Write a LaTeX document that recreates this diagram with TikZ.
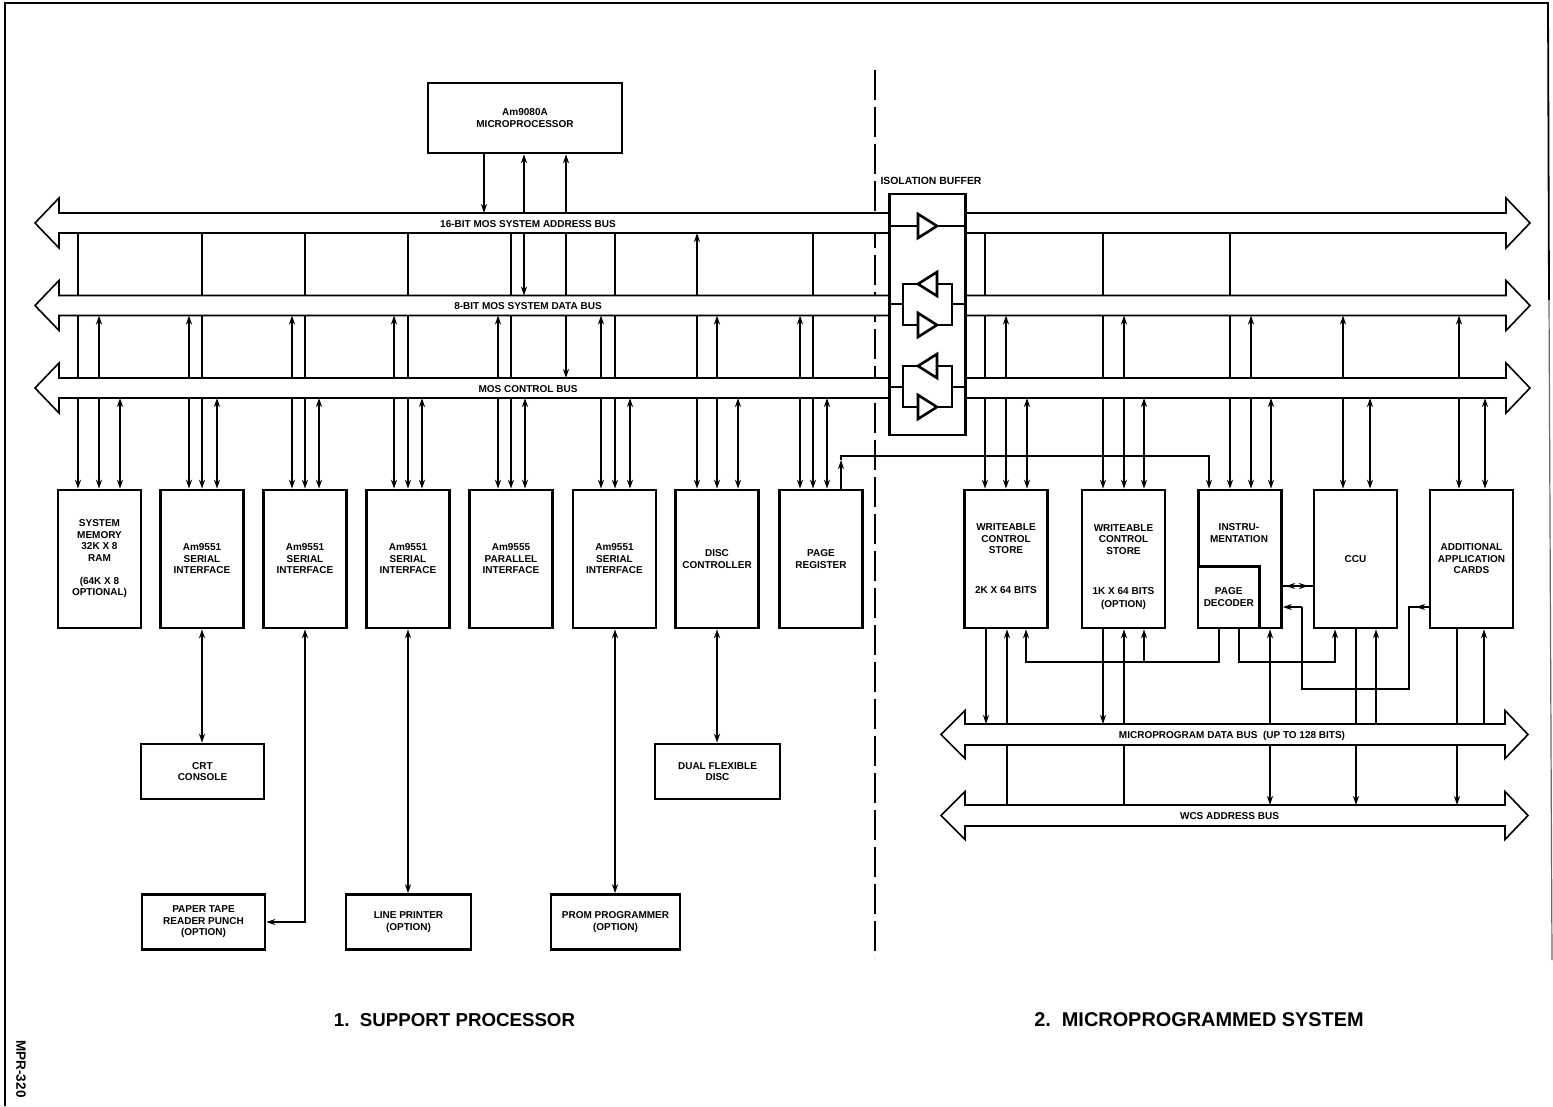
\documentclass[tikz,border=0pt]{standalone}
\usepackage{fontspec}
\setmainfont{Liberation Sans}
\usetikzlibrary{arrows.meta}

\begin{document}
\begin{tikzpicture}[
    x=1pt, y=-1pt,
    font=\bfseries\fontsize{10}{11.5}\selectfont,
    box/.style={draw, line width=2.6pt, fill=white, align=center, inner sep=0pt},
    tall/.style={box, minimum width=83pt, minimum height=138pt},
    wide/.style={box, minimum height=55pt},
    lbl/.style={align=center, inner sep=0pt},
    bus/.style={draw, line width=1.6pt, fill=white},
    link/.style={line width=1.6pt, >={Stealth[length=9pt,width=6pt]}},
    thin link/.style={line width=1.3pt},
    tri/.style={draw, line width=2.6pt, fill=white, line join=miter}
]
\useasboundingbox (0,0) rectangle (1553,1106);

% Frame
\draw[line width=1.8pt] (5,1106) -- (5,3) -- (1548,3) -- (1549,300);
\draw[line width=1.2pt, black!60] (1549,300) -- (1552,960);
\node[rotate=-90, font=\bfseries\fontsize{13.5}{15}\selectfont] (mpr) at (21,1069) {MPR-320};

% Divider
\draw[line width=2.6pt, dash pattern=on 30pt off 7pt] (875,70) -- (875,958);

% MOS buses, left and right of the buffer
\foreach \bname/\by/\btext in {addr/223/{16-BIT MOS SYSTEM ADDRESS BUS},
                               data/305.5/{8-BIT MOS SYSTEM DATA BUS},
                               ctrl/388/{MOS CONTROL BUS}} {
    \coordinate (\bname T) at (0,\by-10);
    \coordinate (\bname B) at (0,\by+10);
    \draw[bus] (889,\by-10) -- (59,\by-10) -- (59,\by-25) -- (35,\by) -- (59,\by+25) -- (59,\by+10) -- (889,\by+10);
    \draw[bus] (966,\by-10) -- (1506,\by-10) -- (1506,\by-25) -- (1530,\by) -- (1506,\by+25) -- (1506,\by+10) -- (966,\by+10);
    \node (\bname L) at (528,\by+1) {\btext};
}

% Microprogram buses
\foreach \bname/\by/\bx/\btext in {mdat/734.5/1232/{MICROPROGRAM DATA BUS\ \ (UP TO 128 BITS)},
                                   wcsb/815.5/1229.5/{WCS ADDRESS BUS}} {
    \coordinate (\bname T) at (0,\by-10.5);
    \coordinate (\bname B) at (0,\by+10.5);
    \draw[bus] (965,\by-10.5) -- (1505,\by-10.5) -- (1505,\by-24) -- (1528,\by) -- (1505,\by+24) -- (1505,\by+10.5)
        -- (965,\by+10.5) -- (965,\by+24) -- (941,\by) -- (965,\by-24) -- cycle;
    \node (\bname L) at (\bx,\by+1) {\btext};
}

% Processor
\node[box, minimum width=194pt, minimum height=70pt] (mproc) at (525,118) {Am9080A\\MICROPROCESSOR};

% Support blocks
\node[tall] (sysmem) at (99.5,559) {SYSTEM\\MEMORY\\32K X 8\\RAM\\[11.5pt](64K X 8\\OPTIONAL)};
\node[tall] (sera) at (202,559) {Am9551\\SERIAL\\INTERFACE};
\node[tall] (serb) at (305,559) {Am9551\\SERIAL\\INTERFACE};
\node[tall] (serc) at (408,559) {Am9551\\SERIAL\\INTERFACE};
\node[tall] (par) at (511,559) {Am9555\\PARALLEL\\INTERFACE};
\node[tall] (serd) at (614.5,559) {Am9551\\SERIAL\\INTERFACE};
\node[tall] (disc) at (717,559) {DISC\\CONTROLLER};
\node[tall] (page) at (821,559) {PAGE\\REGISTER};

% Peripherals
\node[wide, minimum width=123pt] (crt) at (202.5,771.5) {CRT\\CONSOLE};
\node[wide, minimum width=125pt] (flex) at (717.5,771.5) {DUAL FLEXIBLE\\DISC};
\node[wide, minimum width=123pt] (tape) at (203.5,922) {PAPER TAPE\\READER PUNCH\\(OPTION)};
\node[wide, minimum width=125pt] (lpt) at (408.5,922) {LINE PRINTER\\(OPTION)};
\node[wide, minimum width=129pt] (prom) at (615.5,922) {PROM PROGRAMMER\\(OPTION)};

% Microprogrammed blocks
\node[tall] (wcsa) at (1006,559) {WRITEABLE\\CONTROL\\STORE\\[28.5pt]2K X 64 BITS};
\node[tall] (wcsc) at (1123.5,559) {};
\node[lbl] (wcscL) at (1123.5,567) {WRITEABLE\\CONTROL\\STORE\\[28.5pt]1K X 64 BITS\\[1.5pt](OPTION)};
\node[tall] (instr) at (1240,559) {};
\node[lbl] (instrL) at (1239,533) {INSTRU-\\MENTATION};
\node[box, minimum width=61.5pt, minimum height=61.5pt] (decoder) at (1228.75,597.25) {PAGE\\DECODER};
\node[tall] (ccu) at (1355.5,559) {CCU};
\node[tall] (cards) at (1471.5,559) {ADDITIONAL\\APPLICATION\\CARDS};

% Isolation buffer
\node[box, minimum width=76pt, minimum height=241pt, fill=none] (iso) at (927.5,314.5) {};
\node[font=\bfseries\fontsize{10.4}{12}\selectfont] (isoL) at (931,181) {ISOLATION BUFFER};
\draw[thin link] (iso.west |- 0,226) -- (iso.east |- 0,226);
\foreach \ya/\ym/\yb in {284/304/325, 366/387/407} {
    \draw[thin link] (iso.west |- 0,\ym) -- (903,\ym) (903,\ya) rectangle (952,\yb) (952,\ym) -- (iso.east |- 0,\ym);
    \draw[tri] (937,\ya-12) -- (918,\ya) -- (937,\ya+12) -- cycle;
    \draw[tri] (918,\yb-12) -- (937,\yb) -- (918,\yb+12) -- cycle;
}
\draw[tri] (918,214) -- (937,226) -- (918,238) -- cycle;

% Processor to buses
\draw[link,->] (484,0 |- mproc.south) -- (484,0 |- addrT);
\foreach \x in {524,566}
    \draw[link,<-] (\x,0 |- mproc.south) -- (\x,0 |- addrT);
\draw[link,->] (524,0 |- addrB) -- (524,0 |- dataT);
\draw[link,->] (566,0 |- dataB) -- (566,0 |- ctrlT);
\draw[link] (566,0 |- addrB) -- (566,0 |- dataT);

% Address lines
\foreach \x in {78,202,305,408,511,615,813,985,1103,1230} {
    \draw[link] (\x,0 |- addrB) -- (\x,0 |- dataT);
    \draw[link] (\x,0 |- dataB) -- (\x,0 |- ctrlT);
    \draw[link,->] (\x,0 |- ctrlB) -- (\x,0 |- sysmem.north);
}
\draw[link,<-] (697,0 |- addrB) -- (697,0 |- dataT);
\draw[link] (697,0 |- dataB) -- (697,0 |- ctrlT);
\draw[link,->] (697,0 |- ctrlB) -- (697,0 |- disc.north);

% Data lines
\foreach \x in {99,189,292,394,498,601,717,800,1006,1124,1251,1343,1459} {
    \draw[link,<-] (\x,0 |- dataB) -- (\x,0 |- ctrlT);
    \draw[link,->] (\x,0 |- ctrlB) -- (\x,0 |- sysmem.north);
}

% Control lines
\foreach \x in {120,217,319,422,525,630,738,827,1027,1144,1271,1370,1485}
    \draw[link,<->] (\x,0 |- ctrlB) -- (\x,0 |- sysmem.north);

% Peripheral links
\draw[link,<->] (sera.south) -- (crt.north -| sera.south);
\draw[link,<->] (serb.south) |- (tape.east);
\draw[link,<->] (serc.south) -- (lpt.north -| serc.south);
\draw[link,<->] (615,0 |- serd.south) -- (615,0 |- prom.north);
\draw[link,<->] (disc.south) -- (flex.north -| disc.south);

% Page register to instrumentation
\draw[link,->] (841,0 |- page.north) -- (841,460);
\draw[link,->] (841,460) -- (841,456) -| (1209,0 |- instr.north);

% Blocks to microprogram data bus
\foreach \x in {986,1103}
    \draw[link,->] (\x,0 |- wcsa.south) -- (\x,0 |- mdatT);
\foreach \x in {1007,1124,1270,1376,1484}
    \draw[link,<-] (\x,0 |- wcsa.south) -- (\x,0 |- mdatT);
\foreach \x in {1356,1457}
    \draw[link] (\x,0 |- wcsa.south) -- (\x,0 |- mdatT);

% Microprogram data bus to address bus
\foreach \x in {1007,1124}
    \draw[link] (\x,0 |- mdatB) -- (\x,0 |- wcsbT);
\foreach \x in {1270,1356,1457}
    \draw[link,->] (\x,0 |- mdatB) -- (\x,0 |- wcsbT);

% Page decoder outputs
\draw[link,->] (1219,0 |- decoder.south) |- (1026,662) -- (1026,0 |- wcsa.south);
\draw[link,->] (1144,662) -- (1144,0 |- wcsc.south);
\draw[link,->] (1239,0 |- decoder.south) |- (1335,662) -- (1335,0 |- ccu.south);

% Instrumentation to CCU and cards
\draw[link] (instr.east |- 0,586) -- (ccu.west |- 0,586);
\draw[link,<->] (1286,586) -- (1308,586);
\draw[link,->] (1302,607) -- (instr.east |- 0,607);
\draw[link] (1302,607) |- (1409,689) |- (cards.west |- 0,607);
\draw[link,->] (1427,607) -- (1416,607);

% Section titles
\node[font=\bfseries\fontsize{18.7}{22}\selectfont] (supp) at (454.5,1020) {1.\ \ SUPPORT PROCESSOR};
\node[font=\bfseries\fontsize{19.9}{22}\selectfont] (micr) at (1199,1019.5) {2.\ \ MICROPROGRAMMED SYSTEM};
\end{tikzpicture}
\end{document}
